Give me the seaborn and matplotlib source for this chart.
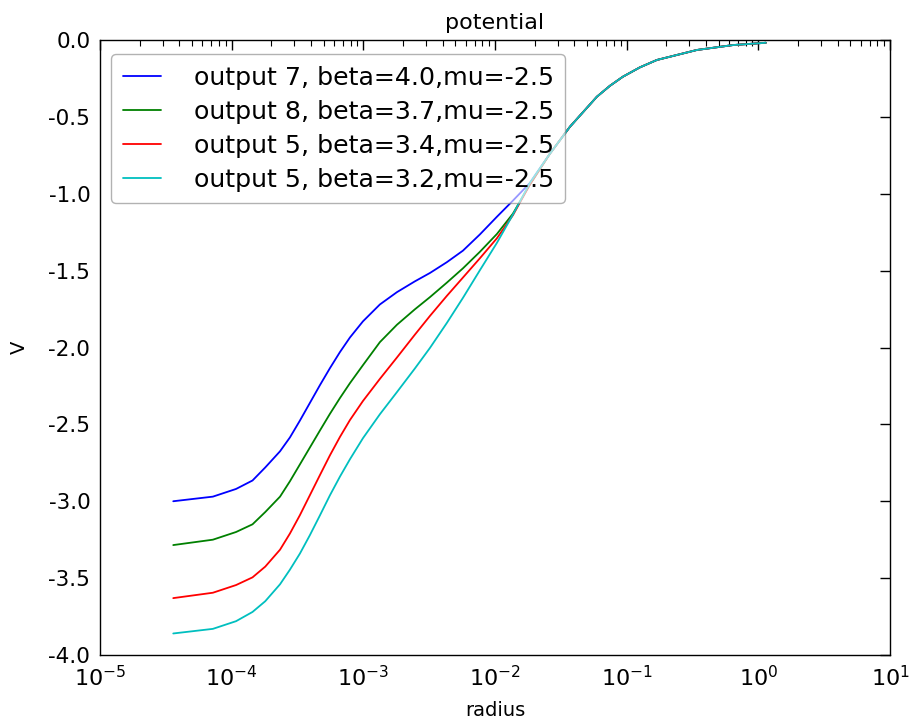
import numpy as np
import pandas as pd
import matplotlib
matplotlib.use("Agg")
import matplotlib.pyplot as plt
import seaborn as sns
from matplotlib.ticker import LogLocator, FixedLocator, FuncFormatter, NullFormatter

# radius sample points shared by all four runs
radius = [3.6e-5, 7.2e-5, 1.08e-4, 1.44e-4, 1.8e-4, 2.33e-4, 2.77e-4, 3.30e-4,
          3.93e-4, 4.68e-4, 5.57e-4, 6.64e-4, 7.91e-4, 9.93e-4, 1.336e-3, 1.80e-3,
          2.46e-3, 3.21e-3, 4.31e-3, 5.71e-3, 7.67e-3, 1.033e-2, 1.367e-2, 1.84e-2,
          2.61e-2, 3.71e-2, 5.94e-2, 7.46e-2, 9.35e-2, 0.126, 0.1695, 0.341, 0.641, 1.14]

# outer region where the four runs coincide
tail = [-0.74, -0.564, -0.369, -0.298, -0.239, -0.178, -0.13, -0.065, -0.033, -0.018]

v_beta40 = [-3.00, -2.97, -2.92, -2.865, -2.78, -2.675, -2.585, -2.475, -2.36, -2.245,
            -2.135, -2.03, -1.935, -1.83, -1.72, -1.64, -1.57, -1.515, -1.445, -1.37,
            -1.265, -1.15, -1.045, -0.93] + tail
v_beta37 = [-3.285, -3.25, -3.20, -3.15, -3.07, -2.97, -2.87, -2.76, -2.65, -2.54,
            -2.432, -2.329, -2.232, -2.115, -1.965, -1.852, -1.752, -1.672, -1.578, -1.485,
            -1.378, -1.262, -1.13, -0.94] + tail
v_beta34 = [-3.63, -3.595, -3.545, -3.495, -3.425, -3.315, -3.21, -3.09, -2.96, -2.83,
            -2.702, -2.582, -2.472, -2.348, -2.204, -2.065, -1.917, -1.794, -1.664, -1.545,
            -1.42, -1.29, -1.14, -0.94] + tail
v_beta32 = [-3.86, -3.83, -3.78, -3.72, -3.65, -3.54, -3.445, -3.34, -3.22, -3.092,
            -2.962, -2.84, -2.727, -2.59, -2.434, -2.29, -2.137, -2.002, -1.84, -1.677,
            -1.498, -1.32, -1.136, -0.93] + tail

labels = ["output 7, beta=4.0,mu=-2.5",
          "output 8, beta=3.7,mu=-2.5",
          "output 5, beta=3.4,mu=-2.5",
          "output 5, beta=3.2,mu=-2.5"]
colors = ["#0000ff", "#008000", "#ff0000", "#00bfbf"]

frames = []
for lab, vals in zip(labels, [v_beta40, v_beta37, v_beta34, v_beta32]):
    frames.append(pd.DataFrame({"radius": radius, "V": vals, "run": lab}))
df = pd.concat(frames, ignore_index=True)

sns.set_style("white")
plt.rcParams["font.family"] = ["DejaVu Sans"]
plt.rcParams["mathtext.default"] = "regular"
plt.rcParams["axes.unicode_minus"] = True
plt.rcParams["text.color"] = "black"
plt.rcParams["axes.labelcolor"] = "black"
plt.rcParams["xtick.color"] = "black"
plt.rcParams["ytick.color"] = "black"

fig = plt.figure(figsize=(9.11, 7.19), dpi=100)
ax = fig.add_axes([100 / 911, 64 / 719, 790 / 911, 615 / 719])

sns.lineplot(data=df, x="radius", y="V", hue="run", palette=colors,
             estimator=None, sort=False, linewidth=1.3, ax=ax)

ax.set_xscale("log")
ax.set_xlim(1e-5, 10)
ax.set_ylim(-4.0, 0.0)

ax.xaxis.set_major_locator(FixedLocator([1e-5, 1e-4, 1e-3, 1e-2, 1e-1, 1e0, 1e1]))
ax.xaxis.set_major_formatter(FuncFormatter(lambda v, p: r"$10^{%d}$" % int(round(np.log10(v)))))
ax.xaxis.set_minor_locator(LogLocator(base=10, subs=np.arange(2, 10), numticks=20))
ax.xaxis.set_minor_formatter(NullFormatter())
ax.set_yticks(np.arange(-4.0, 0.01, 0.5))
ax.yaxis.set_major_formatter(FuncFormatter(lambda v, p: "%.1f" % v))

ax.tick_params(which="major", direction="in", length=7, width=1, top=True, right=True,
               labelsize=15.5, pad=7)
ax.tick_params(which="minor", direction="in", length=4, width=0.8, top=True, right=True)
ax.tick_params(axis="x", which="major", labelsize=16)
for s in ax.spines.values():
    s.set_color("black")
    s.set_linewidth(1.0)

ax.set_xlabel("radius", fontsize=14, labelpad=8)
ax.set_ylabel("V", fontsize=14, labelpad=14)
ax.set_title("potential", fontsize=16, pad=8)

leg = ax.legend(loc="upper left", fontsize=18.2, frameon=True, fancybox=True,
                framealpha=0.6, edgecolor="#808080", handlelength=1.5,
                handletextpad=1.3, borderpad=0.45, labelspacing=0.4,
                bbox_to_anchor=(0.0, 1.0 - 3 / 615), borderaxespad=0.45)
leg.get_frame().set_linewidth(1.0)
for h in leg.get_lines():
    h.set_linewidth(1.3)
for t in leg.get_texts():
    t.set_color("black")

fig.savefig("out.png", dpi=100)
